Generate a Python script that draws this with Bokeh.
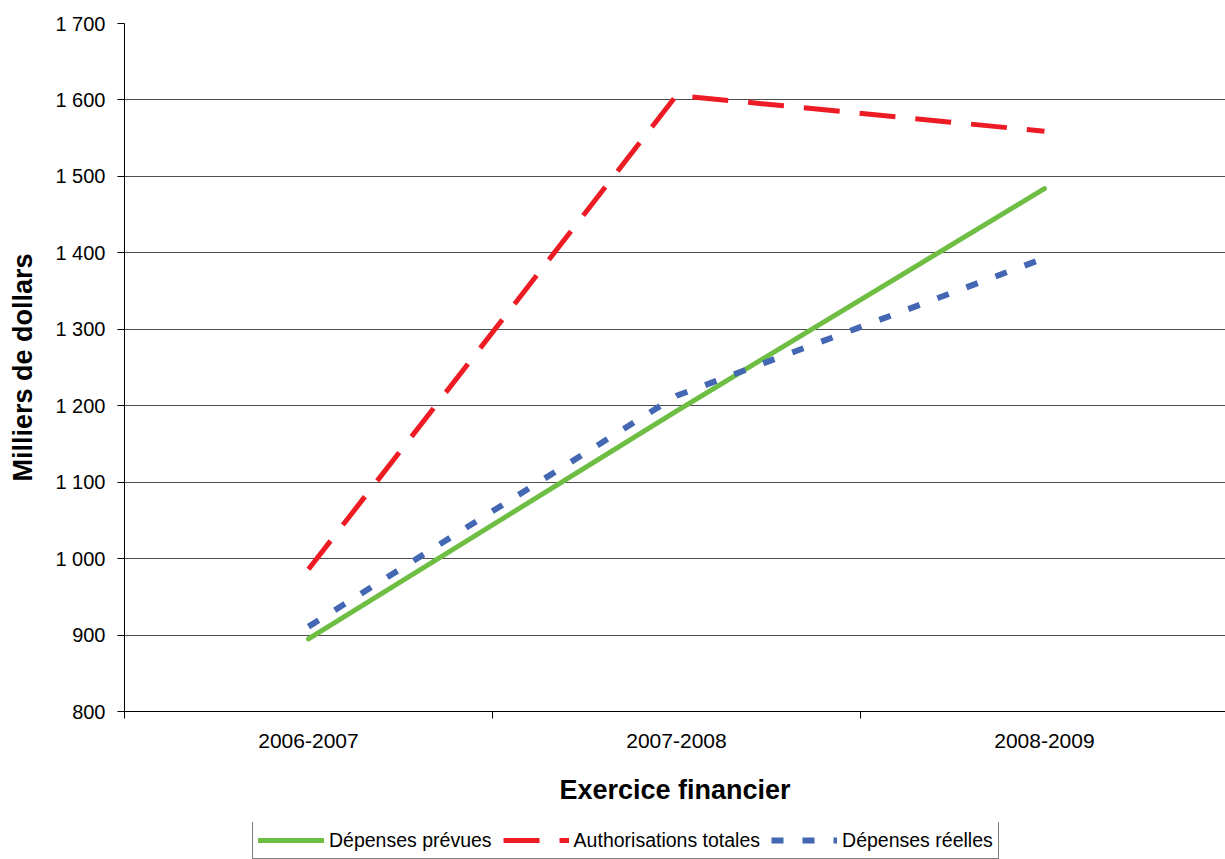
from bokeh.plotting import figure
from bokeh.layouts import column
from bokeh.models import FixedTicker, Range1d, Legend, LegendItem
from bokeh.embed import file_html
from bokeh.resources import INLINE

categories = ["2006-2007", "2007-2008", "2008-2009"]
depenses_prevues = [895, 1193, 1484]
authorisations_totales = [986, 1606, 1559]
depenses_reelles = [911, 1213, 1393]

y_ticks = [800, 900, 1000, 1100, 1200, 1300, 1400, 1500, 1600, 1700]
y_labels = ["800", "900", "1 000", "1 100", "1 200", "1 300", "1 400", "1 500", "1 600", "1 700"]

series_names = ["Dépenses prévues", "Authorisations totales", "Dépenses réelles"]

x = list(range(len(categories)))
FONT = "Liberation Sans"

STYLES = [
    dict(line_color="#6EBE44", line_width=5, line_cap="round", line_join="round"),
    dict(line_color="#ED1C24", line_width=5, line_dash="36 20"),
    dict(line_color="#4467B3", line_width=6, line_dash="12 19"),
]
SERIES = [depenses_prevues, authorisations_totales, depenses_reelles]

p = figure(width=1225, height=822, output_backend="svg", toolbar_location=None,
           x_range=Range1d(-0.5, 2.492), y_range=Range1d(800, 1700),
           min_border_left=124, min_border_right=0, min_border_top=23, min_border_bottom=111)
p.outline_line_color = None
p.background_fill_color = "white"
p.border_fill_color = "white"

# grid
p.xgrid.visible = False
p.ygrid.ticker = FixedTicker(ticks=y_ticks)
p.ygrid.grid_line_color = "#4d4d4d"
p.ygrid.grid_line_width = 1

# y axis
yax = p.yaxis[0]
yax.ticker = FixedTicker(ticks=y_ticks)
yax.major_label_overrides = {v: s for v, s in zip(y_ticks, y_labels)}
yax.major_tick_out = 7
yax.major_tick_in = 0
yax.minor_tick_out = 0
yax.minor_tick_in = 0
yax.major_label_standoff = 12
yax.major_label_text_font = FONT
yax.major_label_text_font_size = "20px"
yax.major_label_text_color = "black"
yax.axis_line_color = "black"
yax.major_tick_line_color = "black"
yax.axis_label = "Milliers de dollars"
yax.axis_label_text_font = FONT
yax.axis_label_text_font_size = "27px"
yax.axis_label_text_font_style = "bold"
yax.axis_label_text_color = "black"
yax.axis_label_standoff = 14

# x axis
xax = p.xaxis[0]
xax.ticker = FixedTicker(ticks=x, minor_ticks=[-0.5, 0.5, 1.5, 2.5])
xax.major_label_overrides = {i: c for i, c in zip(x, categories)}
xax.major_tick_out = 0
xax.major_tick_in = 0
xax.minor_tick_out = 7
xax.minor_tick_in = 0
xax.minor_tick_line_color = "black"
xax.axis_line_color = "black"
xax.major_label_standoff = 15
xax.major_label_text_font = FONT
xax.major_label_text_font_size = "21px"
xax.major_label_text_color = "black"
xax.axis_label = "Exercice financier"
xax.axis_label_text_font = FONT
xax.axis_label_text_font_size = "27px"
xax.axis_label_text_font_style = "bold"
xax.axis_label_text_color = "black"
xax.axis_label_standoff = 24

for ys, st in zip(SERIES, STYLES):
    p.line(x, ys, **st)

# legend strip below the chart
p2 = figure(width=1225, height=37, output_backend="svg", toolbar_location=None,
            x_range=Range1d(0, 1), y_range=Range1d(0, 1),
            min_border_left=0, min_border_right=0, min_border_top=0, min_border_bottom=0)
p2.axis.visible = False
p2.grid.visible = False
p2.outline_line_color = None
p2.background_fill_color = "white"
p2.border_fill_color = "white"

items = []
for name, ys, st in zip(series_names, SERIES, STYLES):
    r = p2.line(x, ys, **st)
    items.append(LegendItem(label=name, renderers=[r]))

legend = Legend(items=items, orientation="horizontal", location=(128, 0))
legend.label_text_font = FONT
legend.label_text_font_size = "19.5px"
legend.label_text_color = "black"
legend.glyph_width = 66
legend.label_standoff = 5
legend.spacing = 11
legend.padding = 5
legend.label_height = 26
legend.margin = 0
legend.border_line_color = "black"
legend.border_line_width = 1
legend.background_fill_color = "white"
legend.background_fill_alpha = 1
p2.add_layout(legend, "center")

layout = column(p, p2, spacing=0)
open("out.html", "w").write(file_html(layout, INLINE))
